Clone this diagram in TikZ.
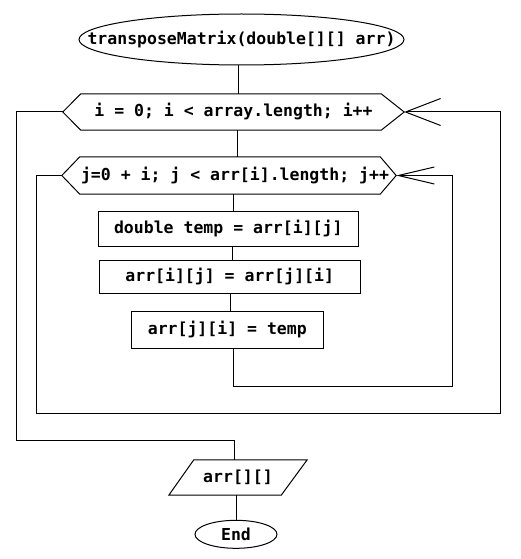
\documentclass[tikz,border=0pt]{standalone}
\usepackage{fontspec}
\setmonofont{DejaVu Sans Mono}
\usetikzlibrary{shapes.geometric,arrows.meta}
\begin{document}
\begin{tikzpicture}[x=1pt,y=-1pt,
  every node/.style={font=\ttfamily\bfseries\fontsize{16.5}{20}\selectfont},
  line/.style={line width=1pt},
  box/.style={draw,line width=1pt,rectangle,inner sep=0pt},
  term/.style={draw,line width=1pt,ellipse,inner sep=0pt},
  hexbody/.style={rectangle,inner sep=0pt},
  bigbarb/.style={line width=1pt,-{Straight Barb[length=35pt,width=27pt]}},
  smallbarb/.style={line width=1pt,-{Straight Barb[length=36pt,width=17pt]}}
]
\fill[white] (0,0) rectangle (520,559);
\useasboundingbox (0,0) rectangle (520,559);

% nodes
\node[term,minimum width=325pt,minimum height=51pt,
      label={center:transposeMatrix(double[][] arr)}] (start) at (241.5,39.5) {};
\node[hexbody,minimum width=341pt,minimum height=36pt] (ihex) at (233.5,112) {i = 0; i < array.length; i++};
\node[hexbody,minimum width=334pt,minimum height=37pt,
      label={[xshift=6pt]center:j=0 + i; j < arr[i].length; j++}] (jhex) at (229,175.5) {};
\node[box,minimum width=260pt,minimum height=34.6pt] (b1) at (228.3,229) {double temp = arr[i][j]};
\node[box,minimum width=260.7pt,minimum height=33pt] (b2) at (229.7,276.8) {arr[i][j] = arr[j][i]};
\node[box,minimum width=192pt,minimum height=36.7pt] (b3) at (227.3,329.7) {arr[j][i] = temp};
\node[hexbody,minimum width=138pt,minimum height=35pt] (out) at (238,477.5) {arr[][]};
\node[term,minimum width=82pt,minimum height=28pt] (end) at (236,534.3) {End};

% outlines of hexagons and parallelogram
\draw[line] (ihex.west) -- ([xshift=18pt]ihex.north west) -- ([xshift=-23pt]ihex.north east)
  -- (ihex.east) -- ([xshift=-23pt]ihex.south east) -- ([xshift=18pt]ihex.south west) -- cycle;
\draw[line] (jhex.west) -- ([xshift=18pt]jhex.north west) -- ([xshift=-16pt]jhex.north east)
  -- (jhex.east) -- ([xshift=-16pt]jhex.south east) -- ([xshift=18pt]jhex.south west) -- cycle;
\draw[line] (out.south west) -- ([xshift=25pt]out.north west) -- (out.north east)
  -- ([xshift=-26pt]out.south east) -- cycle;

% coordinates for loop paths
\coordinate (c1) at (36,413);
\coordinate (c2) at (500,413);
\coordinate (c3) at (452,386);
\coordinate (c4) at (16,440);

% straight connectors
\draw[line] ([xshift=-3.5pt]start.south) -- ([xshift=-3.5pt]start.south |- ihex.north);
\draw[line] ([xshift=3.5pt]ihex.south) -- ([xshift=3.5pt]ihex.south |- jhex.north);
\draw[line] ([xshift=4pt]jhex.south) -- ([xshift=4pt]jhex.south |- b1.north);
\draw[line] ([xshift=3.7pt]b1.south) -- ([xshift=3.7pt]b1.south |- b2.north);
\draw[line] ([xshift=0.3pt]b2.south) -- ([xshift=0.3pt]b2.south |- b3.north);
\draw[line] (out.south -| end.north) -- (end.north);

% loops
\draw[smallbarb] ([xshift=6pt]b3.south) |- (c3) |- (jhex.east);
\draw[bigbarb] (jhex.west) -| (c1) -- (c2) |- (ihex.east);
\draw[line] (ihex.west) -| (c4) -| ([xshift=-4pt]out.north);
\end{tikzpicture}
\end{document}
